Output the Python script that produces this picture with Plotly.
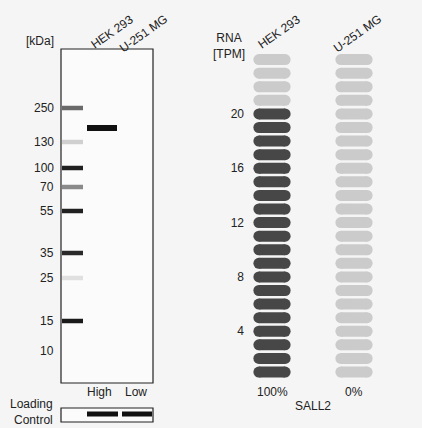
import plotly.graph_objects as go

# western blot: ladder markers (kDa) and their migration position in the blot image
kda_labels = ["250", "130", "100", "70", "55", "35", "25", "15", "10"]
kda_pos = [108, 142, 168, 187, 211, 253, 278, 321, 351]
ladder_shade = ["#6a6a6a", "#d0d0d0", "#202020", "#8a8a8a", "#202020", "#2a2a2a", "#e0e0e0", "#1a1a1a", None]
sample_band_pos = 128  # HEK 293 band
lanes = ["HEK 293", "U-251 MG"]

# RNA levels
cells = ["HEK 293", "U-251 MG"]
tpm = [20, 0]
pct = ["100%", "0%"]
n_pills = 24
gene = "SALL2"

W, H = 422, 428
fig = go.Figure()

# blot frame
fig.add_shape(type="rect", x0=61, x1=153, y0=49, y1=383, xref="x", yref="y",
              line=dict(color="#222", width=1.2), fillcolor="#fbfbfb", layer="below")
fig.add_shape(type="rect", x0=61, x1=153, y0=408, y1=422, xref="x", yref="y",
              line=dict(color="#222", width=1.2), fillcolor="#fbfbfb", layer="below")

for pos, shade in zip(kda_pos, ladder_shade):
    if shade:
        fig.add_trace(go.Scatter(x=[62, 83], y=[pos, pos], mode="lines",
                                 line=dict(color=shade, width=4.5), hoverinfo="skip"))
fig.add_trace(go.Scatter(x=[87, 117], y=[sample_band_pos] * 2, mode="lines",
                         line=dict(color="#111", width=6)))
fig.add_trace(go.Scatter(x=[87, 118, None, 122, 152], y=[414, 414, None, 414, 414], mode="lines",
                         line=dict(color="#111", width=5)))

txt = dict(size=12, color="#222")
for lab, pos in zip(kda_labels, kda_pos):
    fig.add_annotation(x=56, y=pos, text=lab, xref="x", yref="y", showarrow=False,
                       xanchor="right", font=txt)
fig.add_annotation(x=56, y=41, text="[kDa]", xref="x", yref="y", showarrow=False,
                   xanchor="right", font=txt)
for lab, (cx, cy) in zip(lanes, [(112, 32), (143, 34)]):
    fig.add_annotation(x=cx, y=cy, text=lab, xref="x", yref="y", showarrow=False,
                       textangle=-35, font=txt)
fig.add_annotation(x=99, y=392, text="High", xref="x", yref="y", showarrow=False, font=txt)
fig.add_annotation(x=136, y=392, text="Low", xref="x", yref="y", showarrow=False, font=txt)
fig.add_annotation(x=55, y=412, text="Loading<br>Control", xref="x", yref="y", showarrow=False,
                   xanchor="right", align="right", font=txt)

# RNA pills
half = 0.16
for i, (cell, v) in enumerate(zip(cells, tpm)):
    for dark in (True, False):
        xs, ys = [], []
        for k in range(1, n_pills + 1):
            if (k <= v) == dark:
                xs += [i - half, i + half, None]
                ys += [k, k, None]
        if xs:
            col = "#474747" if dark else "#cbcbcb"
            fig.add_trace(go.Scatter(x=xs, y=ys, xaxis="x2", yaxis="y2", mode="lines+markers",
                                     line=dict(color=col, width=11),
                                     marker=dict(color=col, size=11), hoverinfo="skip"))
for lab, cx in zip(pct, [272, 354]):
    fig.add_annotation(x=cx, y=392, text=lab, xref="x", yref="y", showarrow=False, font=txt)
fig.add_annotation(x=313, y=406, text=gene, xref="x", yref="y", showarrow=False, font=txt)
for lab, (cx, cy) in zip(cells, [(279, 32), (357, 34)]):
    fig.add_annotation(x=cx, y=cy, text=lab, xref="x", yref="y", showarrow=False,
                       textangle=-35, font=txt)
fig.add_annotation(x=247, y=46, text="RNA<br>[TPM]", xref="x", yref="y", showarrow=False,
                   xanchor="right", align="center", font=txt)

fig.update_layout(
    width=W, height=H, margin=dict(l=0, r=0, t=0, b=0),
    paper_bgcolor="#f5f5f5", plot_bgcolor="rgba(0,0,0,0)", showlegend=False,
    font=dict(family="Liberation Sans, Arial"),
    xaxis=dict(range=[0, W], domain=[0, 1], visible=False, fixedrange=True),
    yaxis=dict(range=[H, 0], domain=[0, 1], visible=False, fixedrange=True),
    xaxis2=dict(range=[-0.5, 1.5], domain=[231 / W, 395 / W], anchor="y2", visible=False),
    yaxis2=dict(range=[0, 25], domain=[(H - 385.6) / H, (H - 46) / H], anchor="free",
                position=248 / W, tickvals=[4, 8, 12, 16, 20],
                showgrid=False, zeroline=False, showline=False, ticks="",
                tickfont=txt, ticklabelstandoff=4),
)
fig.write_html("out.html", config={"displayModeBar": False},
               post_script="document.body.style.margin='0';")
